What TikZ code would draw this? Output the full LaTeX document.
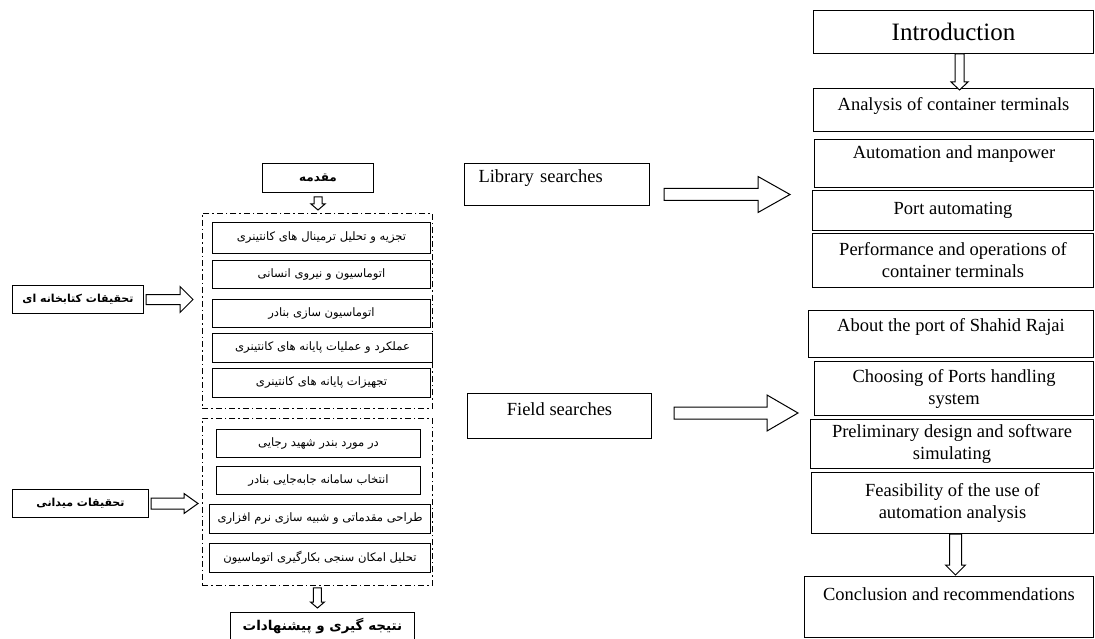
\documentclass[tikz,border=0pt]{standalone}
\usepackage{fontspec}
\setmainfont{Liberation Serif}
\newfontfamily\fa[Script=Arabic]{DejaVu Sans}
\TeXXeTstate=1
\usetikzlibrary{calc}
\newcommand\fatext[1]{{\fa\beginR #1\endR}}

\begin{document}
\begin{tikzpicture}[x=1pt, y=-1pt, line width=1pt,
  box/.style={draw, anchor=north west, inner sep=2pt, align=center,
    font=\fontsize{18.5}{22}\selectfont},
  fabox/.style={draw, anchor=north west, inner sep=2pt,
    font=\fontsize{11.6}{13}\selectfont},
  fahead/.style={fabox, font=\fontsize{11}{13}\selectfont\bfseries},
  grp/.style={draw, anchor=north west, line width=.9pt,
    dash pattern=on 6pt off 3pt on 1.5pt off 3pt},
  lift/.style={text depth=#1},
  harrow/.style n args={3}{fill=white, to path={let \p1=(\tikztostart), \p2=(\tikztotarget) in
    (\x1,\y1+#1) -- (\x2-#3,\y1+#1) -- (\x2-#3,\y1+#2) -- (\x2,\y1)
    -- (\x2-#3,\y1-#2) -- (\x2-#3,\y1-#1) -- (\x1,\y1-#1) -- cycle}},
  varrow/.style n args={3}{fill=white, to path={let \p1=(\tikztostart), \p2=(\tikztotarget) in
    (\x1-#1,\y1) -- (\x1-#1,\y2+#3) -- (\x1-#2,\y2+#3) -- (\x1,\y2)
    -- (\x1+#2,\y2+#3) -- (\x1+#1,\y2+#3) -- (\x1+#1,\y1) -- cycle}}]

  \useasboundingbox (0,0) rectangle (1095,639);

  % right column
  \node[box, font=\fontsize{25}{28}\selectfont, minimum width=280pt, minimum height=43pt] (intro) at (813,10) {Introduction};
  \node[box, minimum width=280pt, minimum height=43pt, lift=12pt] (ana) at (813,88) {Analysis of container terminals};
  \node[box, minimum width=279pt, minimum height=48pt, lift=22pt] (auto) at (814,139) {Automation and manpower};
  \node[box, minimum width=281pt, minimum height=40pt] (port) at (812,190) {Port automating};
  \node[box, minimum width=281pt, minimum height=54pt] (perf) at (812,233) {Performance and operations of\\container terminals};
  \node[box, minimum width=285pt, minimum height=47pt, lift=18pt] (about) at (808,310) {About the port of Shahid Rajai};
  \node[box, minimum width=279pt, minimum height=54pt] (choose) at (814,361) {Choosing of Ports handling\\system};
  \node[box, minimum width=283pt, minimum height=49pt] (prelim) at (810,419) {Preliminary design and software\\simulating};
  \node[box, minimum width=282pt, minimum height=61pt] (feas) at (811,472) {Feasibility of the use of\\automation analysis};
  \node[box, minimum width=289pt, minimum height=61pt, lift=26pt] (concl) at (804,576) {Conclusion and recommendations};

  % middle
  \node[box, align=left, inner xsep=14pt, text width=157pt, minimum height=42pt, lift=16pt] (lib) at (464,163) {Library searches};
  \node[box, minimum width=184pt, minimum height=45pt, lift=14pt] (field) at (467,393) {Field searches};

  % left column
  \node[fahead, font=\fontsize{12}{13}\selectfont\bfseries, minimum width=111pt, minimum height=29pt] (introfa) at (262,163) {\fatext{مقدمه}};
  \node[grp, minimum width=230pt, minimum height=195pt] (grpA) at (202,213) {};
  \node[fabox, minimum width=218pt, minimum height=31pt] (fa1) at (212,222) {\fatext{تجزیه و تحلیل ترمینال های کانتینری}};
  \node[fabox, minimum width=218pt, minimum height=28pt] (fa2) at (212,260) {\fatext{اتوماسیون و نیروی انسانی}};
  \node[fabox, minimum width=218pt, minimum height=28pt] (fa3) at (212,299) {\fatext{اتوماسیون سازی بنادر}};
  \node[fabox, minimum width=220pt, minimum height=29pt] (fa4) at (212,333) {\fatext{عملکرد و عملیات پایانه های کانتینری}};
  \node[fabox, minimum width=218pt, minimum height=29pt] (fa5) at (212,368) {\fatext{تجهیزات پایانه های کانتینری}};
  \node[fahead, minimum width=131pt, minimum height=28pt] (libfa) at (12,285) {\fatext{تحقیقات کتابخانه ای}};

  \node[grp, minimum width=230pt, minimum height=167pt] (grpB) at (202,418) {};
  \node[fabox, minimum width=204pt, minimum height=28pt] (fa6) at (216,429) {\fatext{در مورد بندر شهید رجایی}};
  \node[fabox, minimum width=204pt, minimum height=28pt] (fa7) at (216,466) {\fatext{انتخاب سامانه جابه^^^^200cجایی بنادر}};
  \node[fabox, minimum width=221pt, minimum height=29pt] (fa8) at (209,504) {\fatext{طراحی مقدماتی و شبیه سازی نرم افزاری}};
  \node[fabox, minimum width=221pt, minimum height=29pt] (fa9) at (209,543) {\fatext{تحلیل امکان سنجی بکارگیری اتوماسیون}};
  \node[fahead, minimum width=136pt, minimum height=28pt] (fieldfa) at (12,489) {\fatext{تحقیقات میدانی}};
  \node[fahead, font=\fontsize{13.5}{16}\selectfont\bfseries, minimum width=184pt, minimum height=28pt] (conclfa) at (230,612) {\fatext{نتیجه گیری و پیشنهادات}};

  % hollow arrows
  \draw[varrow={4}{7}{6}] ([yshift=-4pt]introfa.south) to ([yshift=3pt]grpA.north);
  \draw[harrow={5}{13}{13}] ([xshift=2pt]libfa.east) to ([xshift=-9pt]grpA.west);
  \draw[harrow={5.5}{10}{14}] ([xshift=2pt]fieldfa.east) to ([xshift=-4pt]grpB.west);
  \draw[varrow={4}{7}{6}] ([yshift=-2pt]grpB.south) to ([yshift=4pt]conclfa.north);
  \draw[harrow={6}{18}{32}] ([xshift=14pt, yshift=-10pt]lib.east) to ([xshift=-22pt]port.west);
  \draw[harrow={6}{18}{31}] ([xshift=22pt, yshift=3pt]field.east) to ([xshift=-12pt]prelim.west);
  \draw[varrow={4.5}{8.5}{8}] ([xshift=6pt]intro.south) to ([yshift=-2pt]ana.north);
  \draw[varrow={6}{10}{10}] ([xshift=3pt]feas.south) to ([yshift=1pt]concl.north);

\end{tikzpicture}
\end{document}
